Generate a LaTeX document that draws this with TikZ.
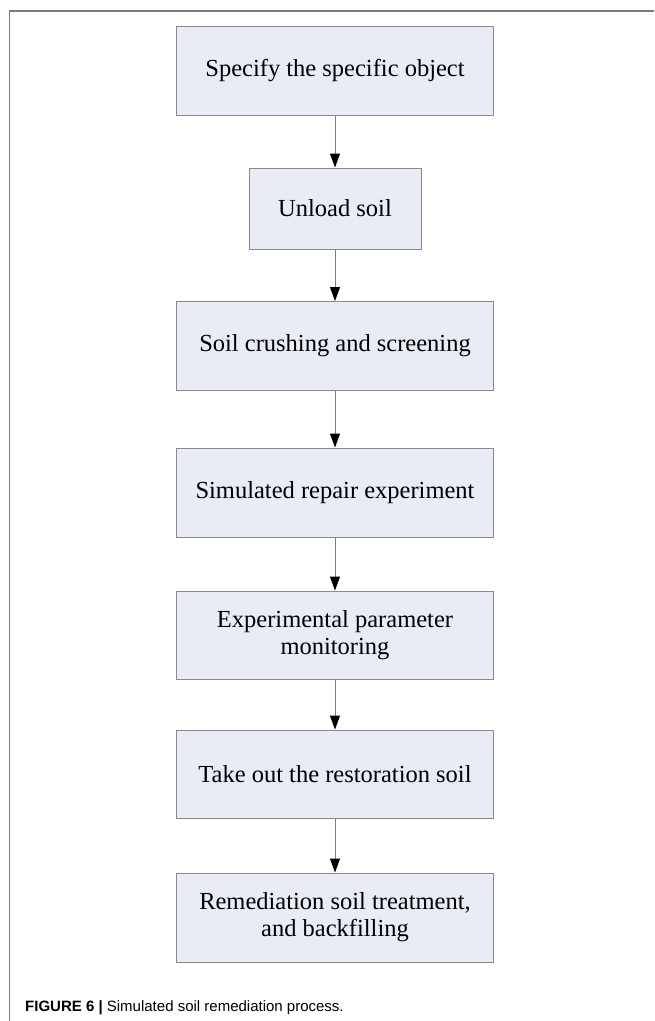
\documentclass[tikz,border=0pt]{standalone}
\usepackage{fontspec}
\setmainfont{Liberation Serif}
\newfontfamily\capfont{Liberation Sans}
\usetikzlibrary{arrows.meta}
\definecolor{boxfill}{HTML}{E9EBF5}
\definecolor{boxline}{HTML}{8A8A8A}
\definecolor{linkline}{HTML}{7F7F7F}
\definecolor{frameline}{HTML}{7A7A7A}
\tikzset{
  stepbox/.style={draw=boxline, fill=boxfill, line width=1pt, rectangle,
    minimum width=317pt, minimum height=89pt, inner sep=0pt, align=center,
    font=\fontsize{24.5}{27}\selectfont},
  smallbox/.style={stepbox, minimum width=172pt, minimum height=81pt},
  link/.style={draw=linkline, line width=1pt,
    -{Triangle[length=14pt,width=10pt,color=black]}},
  frame/.style={draw=frameline, line width=1.5pt}
}
\begin{document}
\begin{tikzpicture}[x=1pt,y=-1pt]
\useasboundingbox (0,0) rectangle (654,1021);
\coordinate (fb) at (9.5,1021);
\coordinate (fc) at (9.5,11);
\coordinate (fr) at (654,11);
\draw[frame] (fb) -- (fc) -- (fr);
\node[stepbox] (n1) at (335,70.5) {Specify the specific object};
\node[smallbox] (n2) at (335,208.5) {Unload soil};
\node[stepbox] (n3) at (335,346) {Soil crushing and screening};
\node[stepbox] (n4) at (335,492.5) {Simulated repair experiment};
\node[stepbox, minimum height=88pt] (n5) at (335,635) {Experimental parameter\\monitoring};
\node[stepbox, minimum height=88pt] (n6) at (335,774) {Take out the restoration soil};
\node[stepbox] (n7) at (335,917.5) {Remediation soil treatment,\\and backfilling};
\draw[link] (n1) -- (n2);
\draw[link] (n2) -- (n3);
\draw[link] (n3) -- (n4);
\draw[link] (n4) -- (n5);
\draw[link] (n5) -- (n6);
\draw[link] (n6) -- (n7);
\node[anchor=base west, inner sep=0pt, font=\capfont\fontsize{15}{18}\selectfont] (cap) at (25,1011) {\textbf{FIGURE 6 |} Simulated soil remediation process.};
\end{tikzpicture}
\end{document}
